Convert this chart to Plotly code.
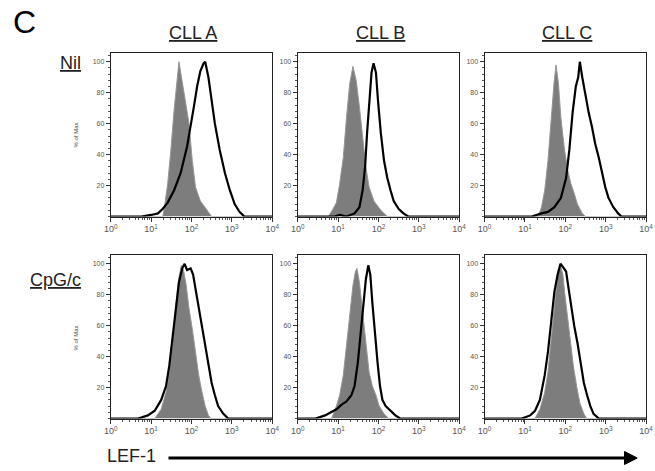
import numpy as np
import plotly.graph_objects as go

# ---------------- data (x in log10 units of LEF-1 fluorescence, y in % of Max) -------------
samples = ["CLL A", "CLL B", "CLL C"]
conditions = ["Nil", "CpG/c"]

# Nil row
a_nil_iso_x = [0, 1.29, 1.33, 1.41, 1.49, 1.57, 1.69, 1.77, 1.85, 1.94, 2.02, 2.10, 2.22, 2.38, 2.50, 4]
a_nil_iso_y = [0, 0, 6, 21, 43, 69, 100, 88, 75, 60, 36, 19, 10, 4, 0, 0]
a_nil_lef_x = [0, 0.76, 1.00, 1.17, 1.29, 1.41, 1.57, 1.73, 1.89, 1.98, 2.06, 2.14, 2.22, 2.30, 2.34,
               2.42, 2.50, 2.58, 2.70, 2.83, 2.95, 3.07, 3.19, 3.31, 4]
a_nil_lef_y = [0, 0, 1, 2, 5, 9, 17, 28, 45, 58, 71, 84, 94, 99, 100, 90, 75, 60, 43, 28, 17, 8, 3, 0, 0]

b_nil_iso_x = [0, 0.76, 0.88, 0.96, 1.04, 1.13, 1.21, 1.29, 1.37, 1.45, 1.53, 1.61, 1.69, 1.77, 1.89,
               2.06, 2.22, 4]
b_nil_iso_y = [0, 0, 5, 9, 21, 38, 64, 86, 97, 88, 71, 51, 32, 19, 10, 4, 0, 0]
b_nil_lef_x = [0, 0.90, 1.05, 1.20, 1.41, 1.53, 1.61, 1.67, 1.72, 1.77, 1.83, 1.88, 1.94, 1.99, 2.06,
               2.14, 2.22, 2.30, 2.38, 2.50, 2.62, 2.74, 4]
b_nil_lef_y = [0, 0, 1, 0, 2, 6, 17, 32, 54, 75, 93, 99, 93, 75, 54, 36, 25, 17, 10, 5, 2, 0, 0]

c_nil_iso_x = [0, 1.33, 1.41, 1.49, 1.57, 1.65, 1.72, 1.77, 1.83, 1.89, 1.98, 2.06, 2.14, 2.22, 2.30,
               2.42, 2.50, 4]
c_nil_iso_y = [0, 0, 6, 17, 36, 64, 86, 98, 86, 64, 43, 30, 21, 15, 8, 2, 0, 0]
c_nil_lef_x = [0, 1.17, 1.41, 1.57, 1.73, 1.89, 2.02, 2.10, 2.18, 2.26, 2.32, 2.36, 2.42, 2.50, 2.58,
               2.66, 2.74, 2.83, 2.91, 2.99, 3.07, 3.19, 3.31, 3.39, 4]
c_nil_lef_y = [0, 0, 2, 3, 6, 12, 25, 43, 67, 84, 90, 100, 90, 77, 67, 58, 47, 38, 28, 19, 12, 6, 2, 0, 0]

# CpG/c row
a_cpg_iso_x = [0, 1.09, 1.25, 1.37, 1.45, 1.53, 1.61, 1.68, 1.75, 1.81, 1.87, 1.94, 2.02, 2.10, 2.18,
               2.26, 2.34, 2.42, 2.48, 4]
a_cpg_iso_y = [0, 0, 6, 17, 30, 49, 73, 90, 99, 95, 86, 71, 58, 43, 28, 17, 8, 2, 0, 0]
a_cpg_lef_x = [0, 0.68, 0.92, 1.09, 1.25, 1.37, 1.45, 1.53, 1.61, 1.69, 1.77, 1.83, 1.89, 1.98, 2.04,
               2.10, 2.18, 2.26, 2.34, 2.42, 2.50, 2.58, 2.66, 2.79, 2.91, 4]
a_cpg_lef_y = [0, 0, 2, 5, 12, 21, 34, 53, 73, 88, 97, 100, 96, 97, 93, 84, 71, 58, 47, 34, 23, 15, 8, 3, 0, 0]

b_cpg_iso_x = [0, 0.84, 0.96, 1.04, 1.13, 1.21, 1.29, 1.37, 1.43, 1.47, 1.53, 1.61, 1.69, 1.77, 1.85,
               1.94, 2.02, 2.14, 2.26, 4]
b_cpg_iso_y = [0, 0, 8, 15, 28, 47, 69, 86, 95, 97, 88, 69, 47, 30, 21, 15, 8, 3, 0, 0]
b_cpg_lef_x = [0, 0.44, 0.68, 0.84, 0.96, 1.09, 1.21, 1.33, 1.41, 1.49, 1.57, 1.64, 1.69, 1.75, 1.80,
               1.85, 1.91, 1.98, 2.04, 2.10, 2.18, 2.30, 2.42, 2.54, 4]
b_cpg_lef_y = [0, 0, 2, 4, 6, 9, 11, 15, 21, 36, 56, 75, 90, 99, 93, 75, 56, 36, 21, 12, 8, 5, 2, 0, 0]

c_cpg_iso_x = [0, 1.25, 1.37, 1.49, 1.57, 1.65, 1.73, 1.81, 1.88, 1.94, 1.99, 2.06, 2.12, 2.20, 2.28,
               2.36, 2.46, 2.53, 4]
c_cpg_iso_y = [0, 0, 6, 17, 30, 51, 75, 93, 99, 93, 80, 64, 49, 34, 21, 10, 3, 0, 0]
c_cpg_lef_x = [0, 0.92, 1.13, 1.25, 1.37, 1.49, 1.57, 1.65, 1.73, 1.81, 1.88, 1.94, 2.02, 2.07, 2.14,
               2.22, 2.30, 2.38, 2.46, 2.54, 2.62, 2.70, 2.83, 4]
c_cpg_lef_y = [0, 0, 2, 5, 12, 28, 43, 64, 82, 93, 100, 98, 95, 86, 73, 60, 49, 36, 23, 15, 8, 3, 0, 0]

x_tick_vals = [1, 10, 100, 1000, 10000]
x_tick_text = ["10<sup>0</sup>", "10<sup>1</sup>", "10<sup>2</sup>", "10<sup>3</sup>", "10<sup>4</sup>"]
y_tick_vals = [20, 40, 60, 80, 100]
y_tick_text = ["20", "40", "60", "80", "100"]
y_title = "% of Max"
x_title = "LEF-1"

panels = [
    (a_nil_iso_x, a_nil_iso_y, a_nil_lef_x, a_nil_lef_y),
    (b_nil_iso_x, b_nil_iso_y, b_nil_lef_x, b_nil_lef_y),
    (c_nil_iso_x, c_nil_iso_y, c_nil_lef_x, c_nil_lef_y),
    (a_cpg_iso_x, a_cpg_iso_y, a_cpg_lef_x, a_cpg_lef_y),
    (b_cpg_iso_x, b_cpg_iso_y, b_cpg_lef_x, b_cpg_lef_y),
    (c_cpg_iso_x, c_cpg_iso_y, c_cpg_lef_x, c_cpg_lef_y),
]

# ---------------- layout geometry (pixels) ----------------
W, H = 655, 471
cols_px = [(106, 271), (297, 462), (488, 653)]
rows_px = [(52.5, 216.5), (254.5, 418.5)]
FONT = "Liberation Sans, Arial, sans-serif"


def px(x):
    return x / W


def py(y):
    return 1 - y / H


minor_x = [m * 10 ** d for d in range(4) for m in range(2, 10)]

fig = go.Figure()
layout = dict(
    width=W, height=H, margin=dict(l=0, r=0, t=0, b=0),
    paper_bgcolor="white", plot_bgcolor="white", showlegend=False,
    font=dict(family=FONT, color="#222"),
)

for i, (ix, iy, lx, ly) in enumerate(panels):
    r, c = divmod(i, 3)
    sfx = "" if i == 0 else str(i + 1)
    xa, ya = "x" + sfx, "y" + sfx
    fig.add_trace(go.Scatter(
        x=np.power(10.0, ix), y=iy, xaxis=xa, yaxis=ya, mode="lines",
        fill="tozeroy", fillcolor="rgb(125,125,125)",
        line=dict(color="rgb(150,150,150)", width=1), hoverinfo="skip"))
    fig.add_trace(go.Scatter(
        x=np.power(10.0, lx), y=ly, xaxis=xa, yaxis=ya, mode="lines",
        line=dict(color="black", width=2.2), hoverinfo="skip"))
    l, rt = cols_px[c]
    t, b = rows_px[r]
    layout["xaxis" + sfx] = dict(
        type="log", range=[0, 4], domain=[px(l), px(rt)], anchor=ya,
        showgrid=False, zeroline=False, showline=True, mirror=True,
        linecolor="#222", linewidth=1,
        tickmode="array", tickvals=x_tick_vals, ticktext=x_tick_text,
        ticks="outside", ticklen=4, tickwidth=1, tickcolor="#333",
        tickfont=dict(size=9, color="#555", family=FONT),
        minor=dict(tickmode="array", tickvals=minor_x, ticks="outside",
                   ticklen=2, tickwidth=1, tickcolor="#555"),
    )
    layout["yaxis" + sfx] = dict(
        range=[0, 106], domain=[py(b), py(t)], anchor=xa,
        showgrid=False, zeroline=False, showline=True, mirror=True,
        linecolor="#222", linewidth=1,
        tickmode="array", tickvals=y_tick_vals, ticktext=y_tick_text,
        ticks="outside", ticklen=4, tickwidth=1, tickcolor="#333",
        tickfont=dict(size=7, color="#555", family=FONT),
        minor=dict(dtick=4, ticks="outside", ticklen=2, tickwidth=1, tickcolor="#555"),
    )

ann = []
# panel letter
ann.append(dict(text="C", x=px(4), y=py(22), xanchor="left", yanchor="middle",
                font=dict(size=32, color="black", family=FONT)))
# column titles
for c, name in enumerate(samples):
    l, rt = cols_px[c]
    ann.append(dict(text="<u>" + name + "</u>", x=px((l + rt) / 2 + 2), y=py(33),
                    xanchor="center", yanchor="middle",
                    font=dict(size=18, color="#222", family=FONT)))
# row titles
ann.append(dict(text="<u>" + conditions[0] + "</u>", x=px(78), y=py(63), xanchor="right",
                yanchor="middle", font=dict(size=18, color="#222", family=FONT)))
ann.append(dict(text="<u>" + conditions[1] + "</u>", x=px(78), y=py(280), xanchor="right",
                yanchor="middle", font=dict(size=18, color="#222", family=FONT)))
# y titles
for yc in (135, 338):
    ann.append(dict(text=y_title, x=px(70), y=py(yc), xanchor="center", yanchor="middle",
                    textangle=-90, font=dict(size=6, color="#444", family=FONT)))
# x title
ann.append(dict(text=x_title, x=px(100), y=py(456), xanchor="left", yanchor="middle",
                font=dict(size=18, color="#222", family=FONT)))
for a in ann:
    a.update(xref="paper", yref="paper", showarrow=False)
layout["annotations"] = ann

layout["shapes"] = [
    dict(type="line", xref="paper", yref="paper", x0=px(165), x1=px(634), y0=py(458), y1=py(458),
         line=dict(color="black", width=3)),
    dict(type="path", xref="paper", yref="paper",
         path=f"M {px(631)} {py(451.5)} L {px(644)} {py(458)} L {px(631)} {py(464.5)} Z",
         fillcolor="black", line=dict(color="black", width=1)),
]

fig.update_layout(**layout)
fig.write_html("out.html", config={"displayModeBar": False},
               post_script="document.body.style.margin='0';document.body.style.overflow='hidden';")
